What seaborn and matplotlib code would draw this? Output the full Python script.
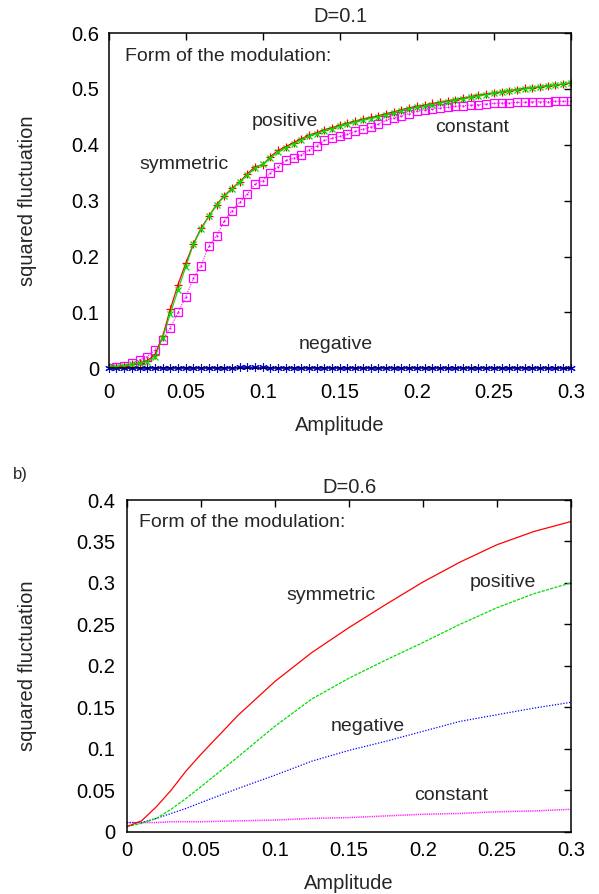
import matplotlib
matplotlib.use("Agg")
import matplotlib.pyplot as plt
import matplotlib.ticker as mticker
import seaborn as sns

# panel a) D=0.1, amplitude step 0.005
ampA = [round(0.005 * i, 3) for i in range(61)]
symA = [0.002, 0.003, 0.005, 0.007, 0.010, 0.014, 0.024, 0.057, 0.106, 0.150,
        0.188, 0.223, 0.251, 0.272, 0.293, 0.309, 0.322, 0.334, 0.348, 0.361,
        0.364, 0.379, 0.390, 0.397, 0.404, 0.411, 0.417, 0.422, 0.427, 0.431,
        0.435, 0.439, 0.442, 0.446, 0.449, 0.452, 0.456, 0.459, 0.463, 0.466,
        0.469, 0.471, 0.474, 0.476, 0.479, 0.481, 0.484, 0.486, 0.489, 0.491,
        0.493, 0.495, 0.497, 0.499, 0.501, 0.502, 0.504, 0.506, 0.507, 0.509,
        0.511]
posA = [0.002, 0.003, 0.005, 0.007, 0.009, 0.012, 0.020, 0.055, 0.098, 0.140,
        0.182, 0.222, 0.249, 0.272, 0.292, 0.308, 0.321, 0.334, 0.346, 0.358,
        0.366, 0.377, 0.387, 0.395, 0.402, 0.409, 0.415, 0.420, 0.425, 0.429,
        0.433, 0.437, 0.440, 0.444, 0.447, 0.450, 0.454, 0.457, 0.461, 0.464,
        0.467, 0.469, 0.472, 0.475, 0.477, 0.480, 0.482, 0.485, 0.487, 0.490,
        0.492, 0.494, 0.496, 0.498, 0.500, 0.502, 0.504, 0.505, 0.507, 0.509,
        0.511]
negA = [0.001, 0.001, 0.001, 0.001, 0.001, 0.001, 0.001, 0.001, 0.001, 0.001,
        0.001, 0.001, 0.001, 0.001, 0.001, 0.001, 0.001, 0.002, 0.002, 0.002,
        0.002, 0.001, 0.001, 0.001, 0.001, 0.001, 0.001, 0.001, 0.001, 0.001,
        0.001, 0.001, 0.001, 0.001, 0.001, 0.001, 0.001, 0.001, 0.001, 0.001,
        0.001, 0.001, 0.001, 0.001, 0.001, 0.001, 0.001, 0.001, 0.001, 0.001,
        0.001, 0.001, 0.001, 0.001, 0.001, 0.001, 0.001, 0.001, 0.001, 0.001,
        0.001]
conA = [0.001, 0.003, 0.005, 0.010, 0.015, 0.021, 0.033, 0.051, 0.073, 0.100,
        0.128, 0.161, 0.184, 0.219, 0.237, 0.264, 0.282, 0.297, 0.312, 0.330,
        0.336, 0.350, 0.361, 0.372, 0.376, 0.382, 0.391, 0.398, 0.408, 0.412,
        0.415, 0.419, 0.424, 0.428, 0.432, 0.437, 0.444, 0.448, 0.452, 0.456,
        0.460, 0.462, 0.464, 0.466, 0.467, 0.469, 0.470, 0.471, 0.472, 0.473,
        0.474, 0.475, 0.475, 0.476, 0.476, 0.477, 0.477, 0.477, 0.478, 0.478,
        0.478]

# panel b) D=0.6
ampB = [0, 0.01, 0.02, 0.03, 0.04, 0.05, 0.075, 0.1, 0.125, 0.15, 0.175, 0.2,
        0.225, 0.25, 0.275, 0.3]
symB = [0.006, 0.013, 0.030, 0.050, 0.073, 0.093, 0.140, 0.181, 0.216, 0.246,
        0.274, 0.301, 0.325, 0.346, 0.362, 0.374]
posB = [0.006, 0.010, 0.016, 0.027, 0.040, 0.054, 0.090, 0.127, 0.160, 0.185,
        0.207, 0.228, 0.250, 0.270, 0.287, 0.300]
negB = [0.011, 0.011, 0.016, 0.022, 0.028, 0.035, 0.052, 0.068, 0.085, 0.098,
        0.109, 0.121, 0.133, 0.141, 0.149, 0.156]
conB = [0.011, 0.011, 0.011, 0.012, 0.012, 0.012, 0.013, 0.014, 0.016, 0.017,
        0.019, 0.021, 0.022, 0.024, 0.025, 0.027]

sns.set_style("white")
plt.rcParams['font.family'] = ['Liberation Sans', 'DejaVu Sans']

fig = plt.figure(figsize=(5.99, 8.94), dpi=100)
axA = fig.add_axes([0.1815, 0.588, 0.7715, 0.375])
axB = fig.add_axes([0.2115, 0.0697, 0.7415, 0.371])

fmt = mticker.FuncFormatter(lambda v, p: "%g" % round(v, 3))
lab = 14.5
ann = 14

# ---- panel a ----
sns.lineplot(x=ampA, y=conA, ax=axA, color="#ff00ff", lw=0.8, linestyle=(0, (1, 1.2)),
             marker="s", markersize=5.2, markerfacecolor="none", markeredgecolor="#ff00ff",
             markeredgewidth=0.9, errorbar=None)
sns.lineplot(x=ampA, y=conA, ax=axA, color="#ff00ff", lw=0, marker=".", markersize=1.5,
             markeredgecolor="#ff00ff", errorbar=None)
sns.lineplot(x=ampA, y=negA, ax=axA, color="#0000ff", lw=0.8, linestyle=(0, (1, 1)),
             marker=(6, 2, 0), markersize=6, markeredgewidth=0.8, markeredgecolor="#0000ff",
             errorbar=None, clip_on=False)
sns.lineplot(x=ampA, y=symA, ax=axA, color="#ff0000", lw=0.9,
             marker="+", markersize=6, markeredgewidth=0.9, markeredgecolor="#ff0000",
             errorbar=None)
sns.lineplot(x=ampA, y=posA, ax=axA, color="#00dd00", lw=0.8,
             marker="x", markersize=5, markeredgewidth=0.9, markeredgecolor="#00dd00",
             errorbar=None)

axA.set_xlim(0, 0.3)
axA.set_ylim(0, 0.6)
axA.set_xticks([0, 0.05, 0.1, 0.15, 0.2, 0.25, 0.3])
axA.set_yticks([0, 0.1, 0.2, 0.3, 0.4, 0.5, 0.6])
axA.set_xlabel("Amplitude", fontsize=lab, labelpad=10)
axA.set_ylabel("squared fluctuation", fontsize=lab)
axA.yaxis.set_label_coords(-0.155, 0.5)

axA.text(0.0106, 0.558, "Form of the modulation:", fontsize=ann, va="center")
axA.text(0.093, 0.441, "positive", fontsize=ann, va="center")
axA.text(0.020, 0.364, "symmetric", fontsize=ann, va="center")
axA.text(0.212, 0.431, "constant", fontsize=ann, va="center")
axA.text(0.123, 0.042, "negative", fontsize=ann, va="center")

# ---- panel b ----
sns.lineplot(x=ampB, y=conB, ax=axB, color="#ff00ff", lw=1.1, linestyle=(0, (0.6, 0.6)),
             errorbar=None)
sns.lineplot(x=ampB, y=negB, ax=axB, color="#0000ff", lw=0.9, linestyle=(0, (1, 1.3)),
             errorbar=None)
sns.lineplot(x=ampB, y=posB, ax=axB, color="#00dd00", lw=0.9, linestyle=(0, (2.5, 1)),
             errorbar=None)
sns.lineplot(x=ampB, y=symB, ax=axB, color="#ff0000", lw=0.9, errorbar=None)

axB.set_xlim(0, 0.3)
axB.set_ylim(0, 0.4)
axB.set_xticks([0, 0.05, 0.1, 0.15, 0.2, 0.25, 0.3])
axB.set_yticks([0, 0.05, 0.1, 0.15, 0.2, 0.25, 0.3, 0.35, 0.4])
axB.set_xlabel("Amplitude", fontsize=lab, labelpad=10)
axB.set_ylabel("squared fluctuation", fontsize=lab)
axB.yaxis.set_label_coords(-0.202, 0.5)

axB.text(0.0083, 0.373, "Form of the modulation:", fontsize=ann, va="center")
axB.text(0.108, 0.285, "symmetric", fontsize=ann, va="center")
axB.text(0.232, 0.300, "positive", fontsize=ann, va="center")
axB.text(0.138, 0.127, "negative", fontsize=ann, va="center")
axB.text(0.194, 0.044, "constant", fontsize=ann, va="center")

for ax in (axA, axB):
    ax.xaxis.set_major_formatter(fmt)
    ax.yaxis.set_major_formatter(fmt)
    ax.tick_params(direction="in", length=5, width=1, labelsize=lab,
                   top=True, right=True, pad=7, colors="black")
    for s in ax.spines.values():
        s.set_color("black")
        s.set_linewidth(1.1)

axA.tick_params(axis="x", pad=10.5)
axB.tick_params(axis="y", pad=8.5)

fig.text(0.568, 0.981, "D=0.1", fontsize=lab, ha="center", va="center")
fig.text(0.583, 0.455, "D=0.6", fontsize=lab, ha="center", va="center")
fig.text(0.021, 0.469, "b)", fontsize=12, ha="left", va="center")

fig.savefig("out.png", dpi=100)
